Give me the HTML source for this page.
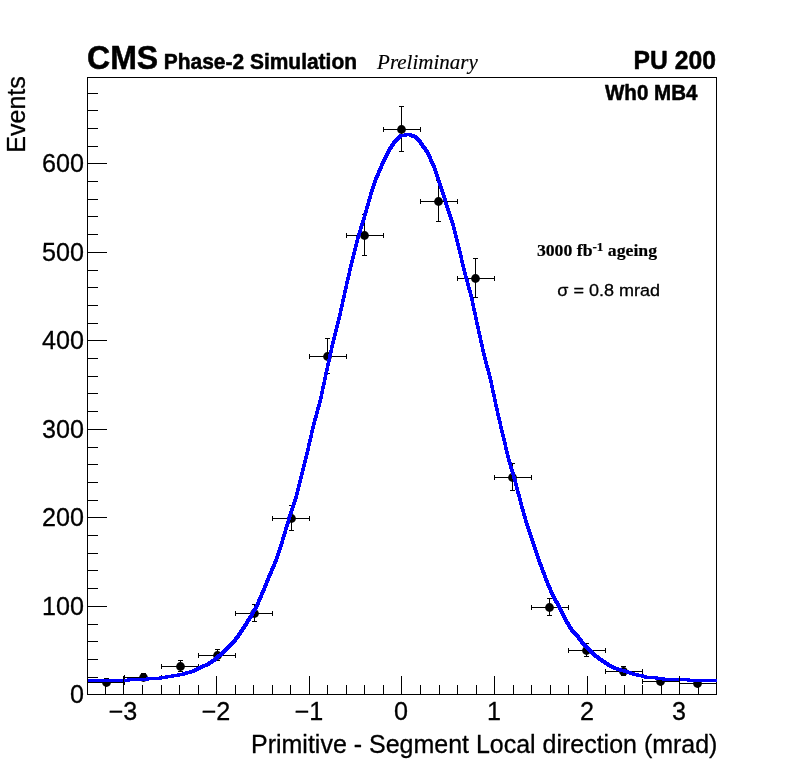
<!DOCTYPE html>
<html lang="en"><head><meta charset="utf-8"><title>CMS Phase-2 Simulation</title>
<style>html,body{margin:0;padding:0;background:#fff}body{width:796px;height:772px;overflow:hidden}svg{display:block}text{font-family:"Liberation Sans",sans-serif;fill:#000;stroke:#000;stroke-width:.3px;stroke-linejoin:round}.b{font-weight:bold;stroke-width:.5px}.ser{font-family:"Liberation Serif",serif;stroke-width:.15px}.ser.b{stroke-width:.2px}</style></head><body>
<svg width="796" height="772" viewBox="0 0 796 772">
<rect width="796" height="772" fill="#fff"/>
<rect x="87.5" y="77.5" width="629" height="617" stroke="#000" stroke-width="1" fill="none" shape-rendering="crispEdges"/>
<g stroke="#000" stroke-width="1" fill="none" shape-rendering="crispEdges">
<path d="M87 682.5H125M106.5 678V686M87.5 680v5M124.5 680v5M104 678.5h5M104 685.5h5M124 677.5H162M143.5 673V681M124.5 675v5M161.5 675v5M141 673.5h5M141 680.5h5M161 666.5H199M180.5 660V672M161.5 664v5M198.5 664v5M178 660.5h5M178 671.5h5M198 655.5H236M217.5 649V661M198.5 653v5M235.5 653v5M215 649.5h5M215 660.5h5M235 613.5H273M254.5 604V622M235.5 611v5M272.5 611v5M252 604.5h5M252 621.5h5M272 518.5H310M291.5 505V531M272.5 516v5M309.5 516v5M289 505.5h5M289 530.5h5M309 356.5H347M327.5 338V374M309.5 354v5M346.5 354v5M325 338.5h5M325 373.5h5M346 235.5H384M364.5 214V256M346.5 233v5M383.5 233v5M362 214.5h5M362 255.5h5M383 129.5H421M401.5 106V152M383.5 127v5M420.5 127v5M399 106.5h5M399 151.5h5M420 201.5H458M438.5 180V222M420.5 199v5M457.5 199v5M436 180.5h5M436 221.5h5M457 278.5H495M475.5 258V298M457.5 276v5M494.5 276v5M473 258.5h5M473 297.5h5M494 477.5H532M512.5 463V491M494.5 475v5M531.5 475v5M510 463.5h5M510 490.5h5M531 607.5H569M549.5 598V616M531.5 605v5M568.5 605v5M547 598.5h5M547 615.5h5M568 650.5H606M586.5 643V657M568.5 648v5M605.5 648v5M584 643.5h5M584 656.5h5M605 671.5H643M623.5 666V676M605.5 669v5M642.5 669v5M621 666.5h5M621 675.5h5M642 681.5H680M660.5 677V685M642.5 679v5M679.5 679v5M658 677.5h5M658 684.5h5M679 683.5H717M697.5 679V687M679.5 681v5M716.5 681v5M695 679.5h5M695 686.5h5"/>
</g>
<g fill="#000">
<circle cx="106.5" cy="682.5" r="4.4"/>
<circle cx="143.5" cy="677.5" r="4.4"/>
<circle cx="180.5" cy="666.5" r="4.4"/>
<circle cx="217.5" cy="655.5" r="4.4"/>
<circle cx="254.5" cy="613.5" r="4.4"/>
<circle cx="291.5" cy="518.5" r="4.4"/>
<circle cx="327.5" cy="356.5" r="4.4"/>
<circle cx="364.5" cy="235.5" r="4.4"/>
<circle cx="401.5" cy="129.5" r="4.4"/>
<circle cx="438.5" cy="201.5" r="4.4"/>
<circle cx="475.5" cy="278.5" r="4.4"/>
<circle cx="512.5" cy="477.5" r="4.4"/>
<circle cx="549.5" cy="607.5" r="4.4"/>
<circle cx="586.5" cy="650.5" r="4.4"/>
<circle cx="623.5" cy="671.5" r="4.4"/>
<circle cx="660.5" cy="681.5" r="4.4"/>
<circle cx="697.5" cy="683.5" r="4.4"/>
</g>
<path d="M88.00 679.00 L124.00 679.00 L130.00 678.00 L143.00 678.00 L149.00 677.00 L155.00 677.00 L162.00 676.00 L180.00 673.00 L187.00 671.00 L193.00 669.00 L199.00 666.00 L206.00 663.00 L212.00 659.00 L218.00 654.00 L224.00 648.00 L231.00 642.00 L237.00 634.00 L243.00 625.00 L250.00 614.00 L256.00 603.00 L262.00 589.00 L268.00 574.00 L275.00 558.00 L281.00 539.00 L287.00 519.00 L294.00 498.00 L306.00 450.00 L312.00 424.00 L319.00 398.00 L325.00 370.00 L331.00 343.00 L338.00 315.00 L344.00 288.00 L350.00 262.00 L356.00 238.00 L363.00 215.00 L369.00 194.00 L375.00 176.00 L382.00 160.00 L388.00 148.00 L394.00 139.00 L400.00 134.00 L407.00 133.00 L410.00 133.00 L416.00 135.00 L422.00 141.00 L429.00 151.00 L435.00 164.00 L441.00 181.00 L447.00 200.00 L454.00 221.00 L460.00 245.00 L466.00 270.00 L473.00 296.00 L479.00 324.00 L485.00 351.00 L492.00 378.00 L498.00 406.00 L504.00 432.00 L510.00 457.00 L517.00 481.00 L523.00 504.00 L529.00 525.00 L536.00 545.00 L542.00 563.00 L548.00 579.00 L554.00 593.00 L561.00 606.00 L567.00 618.00 L573.00 628.00 L580.00 636.00 L586.00 644.00 L592.00 650.00 L598.00 655.00 L605.00 660.00 L611.00 664.00 L617.00 667.00 L624.00 669.00 L636.00 673.00 L642.00 674.00 L649.00 676.00 L655.00 676.00 L661.00 677.00 L668.00 678.00 L686.00 678.00 L693.00 679.00 L717.00 679.00 L717.00 682.00 L690.00 682.00 L683.00 681.00 L665.00 681.00 L658.00 680.00 L652.00 679.00 L646.00 679.00 L639.00 677.00 L633.00 676.00 L621.00 672.00 L614.00 670.00 L608.00 667.00 L602.00 663.00 L595.00 658.00 L589.00 653.00 L583.00 647.00 L577.00 639.00 L570.00 631.00 L564.00 621.00 L558.00 609.00 L551.00 596.00 L545.00 582.00 L539.00 566.00 L533.00 548.00 L526.00 528.00 L520.00 507.00 L514.00 484.00 L507.00 460.00 L501.00 435.00 L495.00 409.00 L489.00 381.00 L482.00 354.00 L476.00 327.00 L470.00 299.00 L463.00 273.00 L457.00 248.00 L451.00 224.00 L444.00 203.00 L438.00 184.00 L432.00 167.00 L426.00 154.00 L419.00 144.00 L413.00 138.00 L408.00 136.33 L407.50 136.36 L403.00 137.00 L397.00 142.00 L391.00 151.00 L385.00 163.00 L378.00 179.00 L372.00 197.00 L366.00 218.00 L359.00 241.00 L353.00 265.00 L347.00 291.00 L341.00 318.00 L334.00 346.00 L328.00 373.00 L322.00 401.00 L315.00 427.00 L309.00 453.00 L297.00 501.00 L290.00 522.00 L284.00 542.00 L278.00 561.00 L271.00 577.00 L265.00 592.00 L259.00 606.00 L253.00 617.00 L246.00 628.00 L240.00 637.00 L234.00 645.00 L227.00 651.00 L221.00 657.00 L215.00 662.00 L209.00 666.00 L202.00 669.00 L196.00 672.00 L190.00 674.00 L183.00 676.00 L165.00 679.00 L158.00 680.00 L152.00 680.00 L146.00 681.00 L133.00 681.00 L127.00 682.00 L88.00 682.00 Z" fill="#0000ff" shape-rendering="crispEdges"/>
<g stroke="#000" stroke-width="1" fill="none" shape-rendering="crispEdges">
<path d="M87.5 77V695M87 694.5H717M105.5 695v-10M123.5 695v-19M142.5 695v-10M161.5 695v-10M179.5 695v-10M198.5 695v-10M216.5 695v-19M235.5 695v-10M253.5 695v-10M272.5 695v-10M290.5 695v-10M309.5 695v-19M327.5 695v-10M346.5 695v-10M364.5 695v-10M383.5 695v-10M401.5 695v-19M420.5 695v-10M439.5 695v-10M457.5 695v-10M476.5 695v-10M494.5 695v-19M513.5 695v-10M531.5 695v-10M550.5 695v-10M568.5 695v-10M587.5 695v-19M605.5 695v-10M624.5 695v-10M642.5 695v-10M661.5 695v-10M679.5 695v-19M698.5 695v-10M87 694.5h20M87 677.5h11M87 659.5h11M87 641.5h11M87 624.5h11M87 606.5h20M87 588.5h11M87 570.5h11M87 553.5h11M87 535.5h11M87 517.5h20M87 500.5h11M87 482.5h11M87 464.5h11M87 447.5h11M87 429.5h20M87 411.5h11M87 393.5h11M87 376.5h11M87 358.5h11M87 340.5h20M87 323.5h11M87 305.5h11M87 287.5h11M87 270.5h11M87 252.5h20M87 234.5h11M87 216.5h11M87 199.5h11M87 181.5h11M87 163.5h20M87 146.5h11M87 128.5h11M87 110.5h11M87 93.5h11"/>
</g>
<g transform="translate(123.00,720.00) scale(0.9852,0.9973)"><text font-size="25.54" text-anchor="middle">−3</text></g>
<g transform="translate(216.00,720.00) scale(0.9852,0.9973)"><text font-size="25.54" text-anchor="middle">−2</text></g>
<g transform="translate(309.00,720.00) scale(0.9852,0.9973)"><text font-size="25.54" text-anchor="middle">−1</text></g>
<g transform="translate(401.00,720.00) scale(0.9852,0.9973)"><text font-size="25.54" text-anchor="middle">0</text></g>
<g transform="translate(494.00,720.00) scale(0.9852,0.9973)"><text font-size="25.54" text-anchor="middle">1</text></g>
<g transform="translate(587.00,720.00) scale(0.9852,0.9973)"><text font-size="25.54" text-anchor="middle">2</text></g>
<g transform="translate(679.00,720.00) scale(0.9852,0.9973)"><text font-size="25.54" text-anchor="middle">3</text></g>
<g transform="translate(84.00,702.85) scale(0.9852,0.9973)"><text font-size="25.54" text-anchor="end">0</text></g>
<g transform="translate(84.00,614.85) scale(0.9852,0.9973)"><text font-size="25.54" text-anchor="end">100</text></g>
<g transform="translate(84.00,525.85) scale(0.9852,0.9973)"><text font-size="25.54" text-anchor="end">200</text></g>
<g transform="translate(84.00,437.85) scale(0.9852,0.9973)"><text font-size="25.54" text-anchor="end">300</text></g>
<g transform="translate(84.00,348.85) scale(0.9852,0.9973)"><text font-size="25.54" text-anchor="end">400</text></g>
<g transform="translate(84.00,260.85) scale(0.9852,0.9973)"><text font-size="25.54" text-anchor="end">500</text></g>
<g transform="translate(84.00,171.85) scale(0.9852,0.9973)"><text font-size="25.54" text-anchor="end">600</text></g>
<g transform="translate(251.04,752.70) scale(0.9776,1.0085)"><text font-size="25.57">Primitive - Segment Local direction (mrad)</text></g>
<g transform="translate(24.90,152.76) rotate(-90) scale(0.9807,1.0085)"><text font-size="25.57">Events</text></g>
<g transform="translate(87.04,69.19) scale(0.9645,1.0208)"><text font-size="33.22" class="b">CMS</text></g>
<g transform="translate(163.79,68.65) scale(0.9701,1.0098)"><text font-size="21.61" class="b">Phase-2 Simulation</text></g>
<g transform="translate(377.06,68.80) scale(1.0280,1.0037)"><text font-size="20.45" class="ser" font-style="italic">Preliminary</text></g>
<g transform="translate(633.62,68.65) scale(0.9858,1.0051)"><text font-size="25.04" class="b">PU 200</text></g>
<g transform="translate(604.94,99.55) scale(0.9642,0.9967)"><text font-size="21.33" class="b">Wh0 MB4</text></g>
<g transform="translate(536.89,256.45) scale(1.0157,1.0000)"><text font-size="17.45" class="ser b">3000 fb<tspan dy="-5.85" font-size="12.92">-1</tspan><tspan dy="5.85"> ageing</tspan></text></g>
<g transform="translate(557.28,295.55) scale(1.0316,0.9960)"><text font-size="17.47">σ = 0.8 mrad</text></g>
</svg></body></html>
